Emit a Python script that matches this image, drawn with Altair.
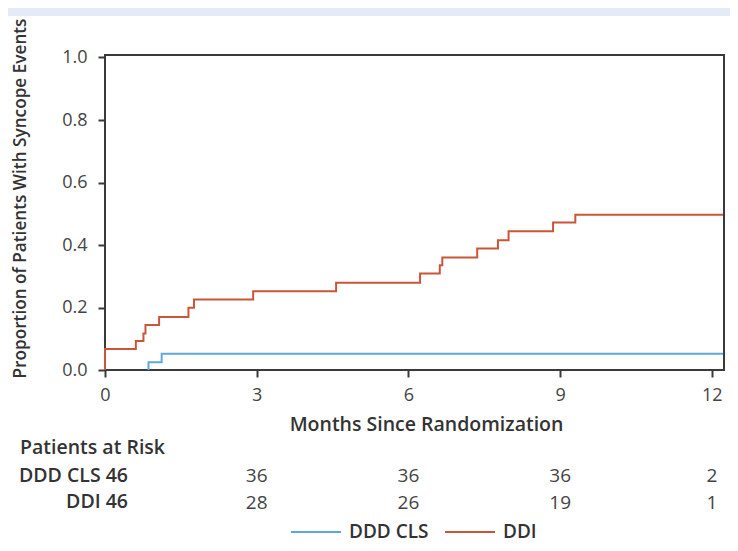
import altair as alt
import pandas as pd

# Kaplan-Meier style cumulative incidence
ddd_months = [0.86, 0.86, 1.12, 12.22]
ddd_prop = [0, 0.025, 0.052, 0.052]
ddi_months = [0, 0, 0.61, 0.76, 0.80, 1.07, 1.65, 1.76, 2.93, 4.57, 6.23, 6.62, 6.67, 7.36, 7.77, 7.98, 8.86, 9.30, 12.22]
ddi_prop = [0, 0.067, 0.093, 0.117, 0.144, 0.170, 0.199, 0.226, 0.252, 0.279, 0.309, 0.335, 0.360, 0.389, 0.415, 0.444, 0.472, 0.497, 0.497]

series = ["DDD CLS", "DDI"]
colors = ["#5fa8dc", "#c8573a"]

risk_months = [3, 6, 9, 12]
risk_ddd = [36, 36, 36, 2]
risk_ddi = [28, 26, 19, 1]
row_labels = ["DDD CLS 46", "DDI 46"]

FONT = "Open Sans"
W, H = 619, 315

rows = []
for m, p in zip(ddd_months, ddd_prop):
    rows.append({"month": m, "prop": p, "group": "DDD CLS", "order": len(rows)})
for m, p in zip(ddi_months, ddi_prop):
    rows.append({"month": m, "prop": p, "group": "DDI", "order": len(rows)})
df = pd.DataFrame(rows)

xscale = alt.Scale(domain=[0, 12.24], nice=False, zero=False)
yscale = alt.Scale(domain=[0, 1.008], nice=False)

lines = alt.Chart(df).mark_line(interpolate="step-after", strokeWidth=2).encode(
    x=alt.X("month:Q", scale=xscale,
            axis=alt.Axis(values=[0, 3, 6, 9, 12], title="Months Since Randomization",
                          format="d", labelPadding=9, titlePadding=11, labelFontSize=18,
                          titleFontSize=19.5, titleX=321, labelFlush=False)),
    y=alt.Y("prop:Q", scale=yscale,
            axis=alt.Axis(values=[0, 0.2, 0.4, 0.6, 0.8, 1.0], format=".1f",
                          title="Proportion of Patients With Syncope Events",
                          labelPadding=11, labelFontSize=18, titleFontSize=17.2,
                          titleX=-76, titleY=143, labelFlush=False)),
    color=alt.Color("group:N", scale=alt.Scale(domain=series, range=colors),
                    legend=alt.Legend(title=None, orient="none", direction="horizontal",
                                      legendX=185, legendY=451, symbolType="stroke",
                                      symbolSize=2500, symbolStrokeWidth=2, padding=0,
                                      labelFontSize=19, labelFont=FONT, labelFontWeight=600,
                                      labelColor="#333", labelOffset=7, columnPadding=12)),
    order="order:Q",
)

risk_df = pd.DataFrame(
    [{"month": m, "n": str(v), "row": "DDD CLS"} for m, v in zip(risk_months, risk_ddd)]
    + [{"month": m, "n": str(v), "row": "DDI"} for m, v in zip(risk_months, risk_ddi)]
)

risk_top = alt.Chart(risk_df).transform_filter(alt.datum.row == "DDD CLS").mark_text(
    font=FONT, fontSize=19, color="#444", baseline="middle", align="center"
).encode(x=alt.X("month:Q", scale=xscale), y=alt.value(421), text="n:N")

risk_bot = alt.Chart(risk_df).transform_filter(alt.datum.row == "DDI").mark_text(
    font=FONT, fontSize=19, color="#444", baseline="middle", align="center"
).encode(x=alt.X("month:Q", scale=xscale), y=alt.value(448), text="n:N")

header = alt.Chart(pd.DataFrame({"t": ["Patients at Risk"]})).mark_text(
    font=FONT, fontSize=19.5, fontWeight=600, color="#333", align="left", baseline="middle"
).encode(x=alt.value(-85), y=alt.value(393), text="t:N")
lab1 = alt.Chart(pd.DataFrame({"t": [row_labels[0]]})).mark_text(
    font=FONT, fontSize=19.5, fontWeight=600, color="#333", align="right", baseline="middle"
).encode(x=alt.value(23), y=alt.value(421), text="t:N")
lab2 = alt.Chart(pd.DataFrame({"t": [row_labels[1]]})).mark_text(
    font=FONT, fontSize=19.5, fontWeight=600, color="#333", align="right", baseline="middle"
).encode(x=alt.value(23), y=alt.value(447), text="t:N")

band = alt.Chart(pd.DataFrame({"a": [1]})).mark_rect(color="#e5ebf6").encode(
    x=alt.value(-110), x2=alt.value(W + 20), y=alt.value(-60), y2=alt.value(-39)
)

chart = alt.layer(band, lines, risk_top, risk_bot, header, lab1, lab2).properties(
    width=W, height=H,
    autosize=alt.AutoSizeParams(type="none"),
    padding={"left": 97, "top": 47, "right": 6, "bottom": 173},
).configure_view(stroke="#3a3a3a", strokeWidth=2).configure_axis(
    labelFont=FONT, titleFont=FONT,
    labelColor="#444", titleColor="#333", titleFontWeight=600,
    tickColor="#3a3a3a", tickWidth=2, tickSize=7, domain=False, grid=False,
)

chart.save("out.html", embed_options={"renderer": "svg", "actions": False})
